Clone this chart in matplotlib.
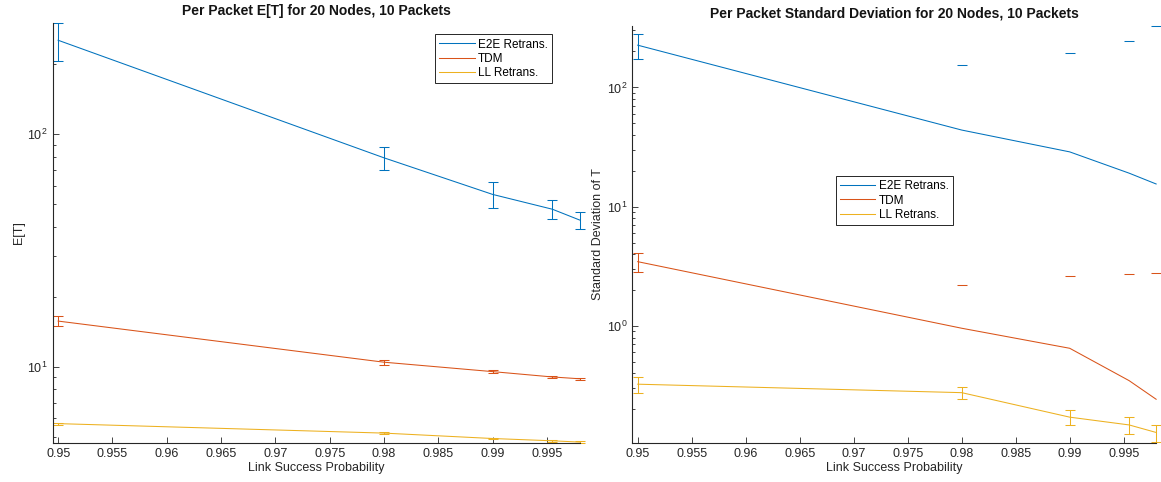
import matplotlib
matplotlib.use("Agg")
import matplotlib.pyplot as plt
from matplotlib.ticker import FixedLocator, NullFormatter

plt.rcParams['font.family'] = ['Liberation Sans', 'DejaVu Sans']

# data
link_prob = [0.95, 0.98, 0.99, 0.9955, 0.998]
series = ["E2E Retrans.", "TDM", "LL Retrans."]
colors = ["#0072BD", "#D95319", "#EDB120"]

# per packet E[T]
et_mean = [
    [253, 79, 55, 47.5, 42.7],
    [15.7, 10.45, 9.52, 9.03, 8.87],
    [5.69, 5.18, 4.91, 4.80, 4.74],
]
et_err = [
    [47, 9, 7, 4.5, 3.5],
    [0.8, 0.25, 0.15, 0.1, 0.08],
    [0.06, 0.05, 0.04, 0.04, 0.03],
]

# per packet standard deviation
sd_mean = [
    [226, 43.9, 28.8, 19.1, 15.5],
    [3.46, 0.957, 0.65, 0.348, 0.243],
    [0.325, 0.276, 0.172, 0.148, 0.128],
]
sd_err = [
    [54, 110, 164, 225, 311],
    [0.65, 1.25, 1.99, 2.38, 2.52],
    [0.05, 0.033, 0.025, 0.024, 0.021],
]

x_ticks = [0.95, 0.955, 0.96, 0.965, 0.97, 0.975, 0.98, 0.985, 0.99, 0.995]
axis_col = "#262626"


def draw_panel(ax, means, errs, title, ylabel, ylim, legend_pos):
    # mask keeps MATLAB look: negative lower bounds are not drawn on log axis
    ax.set_yscale('log', nonpositive='mask')
    handles = []
    for m, e, c in zip(means, errs, colors):
        cont = ax.errorbar(link_prob, m, yerr=e, color=c, lw=0.75,
                           elinewidth=0.75, capsize=3.3, capthick=0.75,
                           clip_on=False)
        handles.append(cont[0])
    ax.set_xlim(0.9495, 0.998)
    ax.set_ylim(*ylim)
    ax.xaxis.set_major_locator(FixedLocator(x_ticks))
    ax.set_xticklabels(["%g" % t for t in x_ticks])
    ax.yaxis.set_minor_formatter(NullFormatter())
    for s in ["top", "right"]:
        ax.spines[s].set_visible(False)
    for s in ["left", "bottom"]:
        ax.spines[s].set_color(axis_col)
        ax.spines[s].set_linewidth(0.8)
    ax.tick_params(which='both', direction='in', colors=axis_col,
                   labelsize=9, top=False, right=False, width=0.6)
    ax.tick_params(which='major', length=4)
    ax.tick_params(which='minor', length=2.5)
    ax.set_title(title, fontsize=10, fontweight='bold', color='#141414', pad=6)
    ax.set_xlabel("Link Success Probability", fontsize=9, color=axis_col, labelpad=2)
    ax.set_ylabel(ylabel, fontsize=9, color=axis_col, labelpad=2)
    leg = ax.legend(handles, series, loc='upper left', bbox_to_anchor=legend_pos,
                    fontsize=8.5, fancybox=False, framealpha=1, edgecolor=axis_col,
                    handlelength=3.0, handletextpad=0.3, borderpad=0.35,
                    labelspacing=0.2, borderaxespad=0)
    leg.get_frame().set_linewidth(0.7)


fig = plt.figure(figsize=(11.61, 4.82), dpi=100)
ax1 = fig.add_axes([0.0454, 0.0815, 0.4538, 0.8707])
ax2 = fig.add_axes([0.5446, 0.0815, 0.4512, 0.8645])

draw_panel(ax1, et_mean, et_err, "Per Packet E[T] for 20 Nodes, 10 Packets",
           "E[T]", (4.71, 300), (0.7256, 0.973))
draw_panel(ax2, sd_mean, sd_err,
           "Per Packet Standard Deviation for 20 Nodes, 10 Packets",
           "Standard Deviation of T", (0.105, 327), (0.388, 0.64))

fig.savefig("out.png", dpi=100)
